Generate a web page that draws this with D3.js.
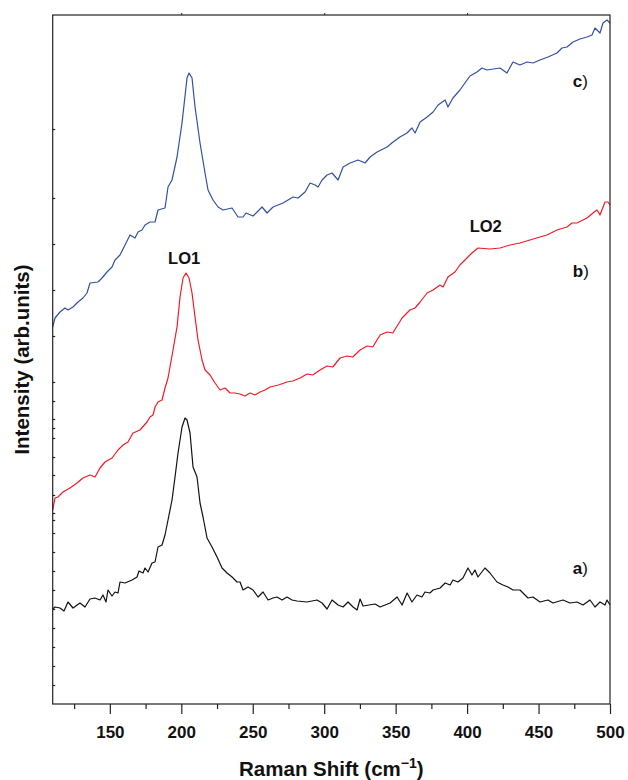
<!DOCTYPE html>
<html><head><meta charset="utf-8">
<script src="https://cdn.jsdelivr.net/npm/d3@7"></script>
<style>body{margin:0;background:#fff}svg{display:block}text{font-family:"Liberation Sans",Arial,sans-serif}</style>
</head><body><div id="chart"></div>
<script>
// Raman shift (cm-1) and intensity (arb. units) for each spectrum
const shiftA = [110,111.6,115.1,117.9,120.7,124.2,129.1,132.6,136.1,139.6,143.1,145.2,147.3,148.7,151.5,153.6,155.7,157.1,160.6,165.5,169,170.4,173.2,174.6,176.7,179.5,181.6,183.7,186.5,188.6,190.7,193.5,195.6,197.7,200.5,202.6,204,206.1,208.2,211,213.1,215.2,218,221.5,225,228.5,232,235.5,239,241.1,243.2,246.7,250.2,253.7,257.2,260.7,264.2,267,270.5,274,277.5,281,288,295,298.5,302,305.5,309.7,313.2,316.7,320.2,323,325.1,327.2,335.6,339.1,346.1,351,354.5,358,361.4,364.9,368.4,370.5,374,376.2,381.1,384.6,388.1,390.1,393.6,397.1,400.6,403.4,405.5,407.6,412.5,416,420.9,425.1,428.6,432.1,437,442.6,446.1,451,456.6,460.1,467.1,472,476.9,481.1,486,489.5,493,496.5,497.9,500];
const intensA = [95,97,96,93,102,96,101,97,105,106,104,109,102,114,108,112,111,122,121,124,127,133,131,136,132,141,142,157,159,169,184,204,227,251,277,286,284,271,237,227,201,187,166,157,147,136,131,127,122,122,114,117,114,107,112,104,106,107,104,107,104,103,102,104,101,95,104,99,97,102,97,94,105,98,100,97,101,107,99,111,102,109,107,112,111,114,116,121,119,124,122,126,136,129,134,127,136,131,122,119,117,114,114,106,107,102,104,101,104,101,102,99,104,97,102,99,104,99];

const shiftB = [110,111.6,113.7,117.2,122.1,127,131.2,136.1,139.6,143.1,146.6,151.5,155.7,159.2,162.7,166.2,171.1,176,178.1,180.2,181.6,183.7,186.5,188.6,190.7,194.2,197,199.1,201.2,203.3,205.4,207.5,209.6,211.7,214.5,216.6,220.1,223.6,227.1,230.6,234.1,237.6,241.1,244.6,248.1,251.6,255.1,258.6,262.1,268,274,278,283.1,288,292,297.1,302,306,311.1,316,320,325.1,330,334,339.1,344,348,354.5,360,363.6,367.1,372,376.2,381.1,383.2,386.6,391.5,395,399.9,403.4,407.6,416,423,430,437,444,451,455.9,462.9,469.9,473.4,476.9,483.9,488.1,490.9,493,496.5,498.6,500];
const intensB = [194,206,207,212,216,221,226,229,227,236,242,246,254,259,262,271,274,282,287,289,297,302,304,316,326,354,377,407,426,431,426,411,387,364,344,334,329,321,314,316,311,311,310,308,311,309,312,314,317,319,322,323,326,330,329,334,338,337,346,348,347,354,358,357,369,372,371,386,394,396,402,411,414,419,417,427,432,439,446,451,456,455,456,459,461,464,467,469,474,477,481,481,486,491,494,489,502,502,499];

const shiftC = [110,111.6,115.1,118.6,120.7,124.2,127.7,131.2,134,136.1,141.7,144.5,148,151.5,153.6,157.1,160.6,164.1,167.6,169.7,172.5,174.6,178.1,181.6,183.7,188.6,190.7,193.5,197,200.5,204,205.4,207.5,209.6,213.1,216.6,218.7,222.2,225.7,229.2,235.5,239.7,243.2,245.3,250.2,256.5,260,264.2,271.2,278.2,281.7,286.6,290.1,293.6,295.7,298.5,302,305.5,309.7,313.2,318.1,323.7,328.6,332.1,337,344,348.2,353,357.9,361.4,363.6,367.1,372,376.2,379.7,384.6,386.6,390.1,395,398.5,402,406.9,410.4,413.9,423,427.9,432.1,437,441.9,446.1,451,456.6,462.9,466.4,469.9,474.1,479,483.9,487.4,489.5,493,495.1,497.9,500];
const intensC = [377,386,392,396,394,397,402,406,411,421,422,426,432,437,444,449,459,469,466,472,474,479,482,482,494,496,517,524,547,581,626,631,626,597,561,531,514,504,497,494,496,487,487,491,488,497,491,497,501,507,506,512,521,519,517,524,529,531,524,537,541,544,541,547,552,557,562,567,571,576,571,582,587,592,599,604,597,606,614,621,628,632,636,634,636,631,642,639,642,641,644,647,651,656,657,662,665,667,669,676,671,681,684,681];

const xTicks = [150,200,250,300,350,400,450,500];
const xMinorTicks = [125,175,225,275,325,375,425,475];
const topTicks = [200,300,400];
const yTicks = [575,506,460,414,368,322,303,285,276,266,247,229,209,191,184,171,152,133,114,95,76,57,38,19];

const W = 628, H = 780;
const m = {left: 52.7, right: 610, top: 15, bottom: 704};
const svg = d3.select("#chart").append("svg").attr("width", W).attr("height", H);
const x = d3.scaleLinear().domain([110, 500]).range([m.left, m.right]);
const y = d3.scaleLinear().domain([0, 689]).range([m.bottom, m.top]);

svg.append("clipPath").attr("id","clip").append("rect")
  .attr("x", m.left - 2).attr("y", m.top).attr("width", m.right - m.left + 3).attr("height", m.bottom - m.top);

const series = [
  {sx: shiftA, sy: intensA, color: "#111"},
  {sx: shiftB, sy: intensB, color: "#ee1c24"},
  {sx: shiftC, sy: intensC, color: "#3350a2"}
];
const line = d3.line().x(d => x(d[0])).y(d => y(d[1]));
series.forEach(s => {
  svg.append("path").attr("clip-path","url(#clip)")
    .attr("d", line(s.sx.map((v,i) => [v, s.sy[i]])))
    .attr("fill","none").attr("stroke", s.color).attr("stroke-width", 1.2).attr("stroke-linejoin","round");
});

// frame
svg.append("rect").attr("x", m.left).attr("y", m.top).attr("width", m.right - m.left).attr("height", m.bottom - m.top)
  .attr("fill","none").attr("stroke","#222").attr("stroke-width",1.2);

// bottom axis
const gx = svg.append("g").attr("transform", `translate(0,${m.bottom})`)
  .call(d3.axisBottom(x).tickValues(xTicks).tickSize(10).tickPadding(12).tickFormat(d3.format("d")));
gx.select(".domain").remove();
gx.selectAll("line").attr("stroke","#222").attr("stroke-width",1.2);
gx.selectAll("text").attr("font-size",17).attr("font-weight","bold").attr("fill","#111").attr("font-family","Liberation Sans, Arial, sans-serif");
const gxm = svg.append("g").attr("transform", `translate(0,${m.bottom})`)
  .call(d3.axisBottom(x).tickValues(xMinorTicks).tickSize(5).tickFormat(""));
gxm.select(".domain").remove();
gxm.selectAll("line").attr("stroke","#222").attr("stroke-width",1.2);

// top ticks
const gt = svg.append("g").attr("transform", `translate(0,${m.top})`)
  .call(d3.axisTop(x).tickValues(topTicks).tickSize(2).tickFormat(""));
gt.select(".domain").remove();
gt.selectAll("line").attr("stroke","#222");

// left axis inward ticks
const gy = svg.append("g").attr("transform", `translate(${m.left},0)`)
  .call(d3.axisRight(y).tickValues(yTicks).tickSize(2.5).tickFormat(""));
gy.select(".domain").remove();
gy.selectAll("line").attr("stroke","#222").attr("stroke-width",1.2);

// axis titles
const xt = svg.append("text").attr("x", (m.left + m.right)/2).attr("y", 776).attr("text-anchor","middle")
  .attr("font-size",20.5).attr("font-weight","bold").attr("fill","#111");
xt.append("tspan").text("Raman Shift (cm");
xt.append("tspan").attr("font-size",14).attr("dy",-8).text("\u22121");
xt.append("tspan").attr("dy",8).text(")");

svg.append("text").attr("transform", `translate(29,${(m.top + m.bottom)/2}) rotate(-90)`)
  .attr("text-anchor","middle").attr("font-size",20.5).attr("font-weight","bold").attr("fill","#111")
  .text("Intensity (arb.units)");

// annotations
const ann = [
  {t:"LO1", xv:202, yv:440, anchor:"middle"},
  {t:"LO2", xv:413, yv:472, anchor:"middle"}
];
ann.forEach(a => svg.append("text").attr("x", x(a.xv)).attr("y", y(a.yv)).attr("text-anchor", a.anchor)
  .attr("font-size",16.5).attr("font-weight","bold").attr("fill","#111").text(a.t));

const labels = [
  {t:"c", xv:474, yv:617},
  {t:"b", xv:474, yv:427},
  {t:"a", xv:474, yv:130}
];
labels.forEach(l => {
  const tx = svg.append("text").attr("x", x(l.xv)).attr("y", y(l.yv)).attr("font-size",17).attr("fill","#111");
  tx.append("tspan").attr("font-weight","bold").text(l.t);
  tx.append("tspan").text(")");
});
</script></body></html>
